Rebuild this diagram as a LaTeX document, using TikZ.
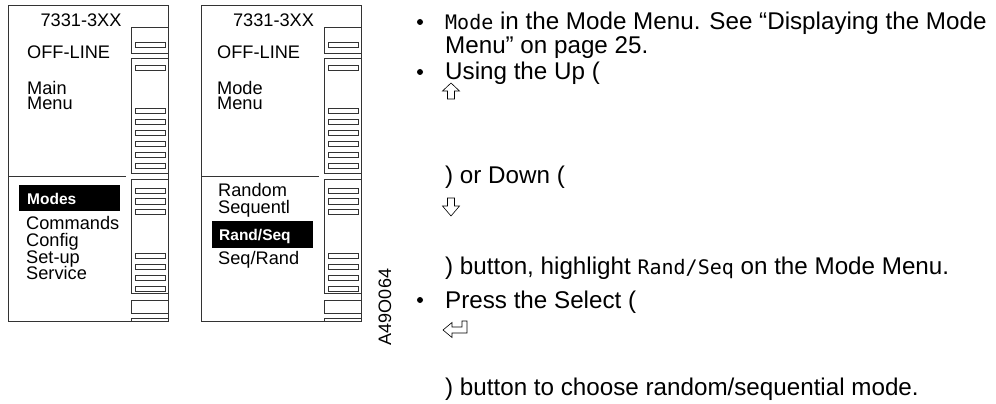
\documentclass[tikz,border=0pt]{standalone}
\usepackage{fontspec}
\setmainfont{Liberation Sans}
\newfontfamily\monof{DejaVu Sans Mono}
\newcommand\pnlfont{\fontsize{18.2}{16.5}\selectfont}
\newcommand\hlfont{\fontsize{15.5}{16}\selectfont\bfseries}
\newcommand\bodyfont{\fontsize{24.2}{26}\selectfont}
\newcommand\codefont{\monof\fontsize{20}{24}\selectfont}
\tikzset{
  frame/.style={draw=black!80, line width=0.8pt},
  btn/.style={draw=black!80, line width=0.8pt},
  ptxt/.style={anchor=base west, inner sep=0pt, font=\pnlfont},
  hltxt/.style={anchor=base west, inner sep=0pt, font=\hlfont, text=white},
  btxt/.style={anchor=base west, inner sep=0pt, font=\bodyfont},
  bul/.style={circle, fill=black, inner sep=0pt, minimum size=6pt},
  harrow/.style={draw=black, line width=0.6pt, line join=miter},
}
\newcommand\drawpanel[1]{%
  \begin{scope}[xshift=#1]
    \draw[frame] (0,5) rectangle (160,321);
    \draw[frame] (0,176) -- (118,176);
    \draw[frame] (123,27) rectangle (160,53);
    \draw[frame] (123,58) rectangle (160,173);
    \draw[frame] (123,179) rectangle (160,293);
    \draw[frame] (123,300) rectangle (160,313);
    \draw[frame] (123,321) -- (123,318.5) -- (160,318.5);
    \foreach \yy in {42,65,108,119,130,141,152,163,188,198.5,209,253,264,275,286}
      \draw[btn] (127,\yy) rectangle (157,\yy+5.5);
  \end{scope}}
\begin{document}
\begin{tikzpicture}[x=1pt,y=-1pt]
\useasboundingbox (0,0) rectangle (996,404);
\drawpanel{8pt}
\drawpanel{201pt}
% left panel texts
\node[ptxt, anchor=base] (lid) at (81,27) {7331-3XX};
\node[ptxt] (loff) at (27,59) {OFF-LINE};
\node[ptxt] (lmain) at (27,94) {Main};
\node[ptxt] (lmenu) at (27,110) {Menu};
\fill (19,185) rectangle (120,211);
\node[hltxt] (lmodes) at (27,204) {Modes};
\node[ptxt] (lcmd) at (26,229) {Commands};
\node[ptxt] (lcfg) at (26,246) {Config};
\node[ptxt] (lset) at (26,263) {Set-up};
\node[ptxt] (lsrv) at (26,279) {Service};
% middle panel texts
\node[ptxt, anchor=base] (mid) at (273.5,27) {7331-3XX};
\node[ptxt] (moff) at (217,59) {OFF-LINE};
\node[ptxt] (mmode) at (217,94) {Mode};
\node[ptxt] (mmenu) at (217,110) {Menu};
\node[ptxt] (mrand) at (218,196) {Random};
\node[ptxt] (mseq) at (218,213) {Sequentl};
\fill (212,221) rectangle (313,248);
\node[hltxt] (mrs) at (219,240) {Rand/Seq};
\node[ptxt] (msr) at (218,264) {Seq/Rand};
% figure id
\node[font=\fontsize{18}{18}\selectfont, rotate=90, anchor=base, inner sep=0pt] (fid) at (391,307) {A49O064};
% body text
\node[bul] (b1) at (420,22) {};
\node[bul] (b2) at (420,72) {};
\node[bul] (b3) at (420,300) {};
\node[btxt] (t1) at (445,30) {{\codefont Mode} in the Mode Menu. See “Displaying the Mode};
\node[btxt] (t2) at (445,54) {Menu” on page 25.};
\node[btxt] (t3) at (445,80) {Using the Up (};
\node[btxt] (t4) at (445,183) {) or Down (};
\node[btxt] (t5) at (445,274) {) button, highlight {\codefont Rand/Seq} on the Mode Menu.};
\node[btxt] (t6) at (445,308) {Press the Select (};
\node[btxt] (t7) at (445,395) {) button to choose random/sequential mode.};
% arrow glyphs
\draw[harrow] (451,83) -- (459.5,91) -- (454.5,91) -- (454.5,99) -- (447.5,99) -- (447.5,91) -- (442.5,91) -- cycle;
\draw[harrow] (447.5,198) -- (454.5,198) -- (454.5,206) -- (459.5,206) -- (451,216) -- (442.5,206) -- (447.5,206) -- cycle;
\draw[harrow] (443,330) -- (452,322.5) -- (452,327) -- (462,327) -- (462,321) -- (467,321) -- (467,333) -- (452,333) -- (452,337.5) -- cycle;
\end{tikzpicture}
\end{document}
